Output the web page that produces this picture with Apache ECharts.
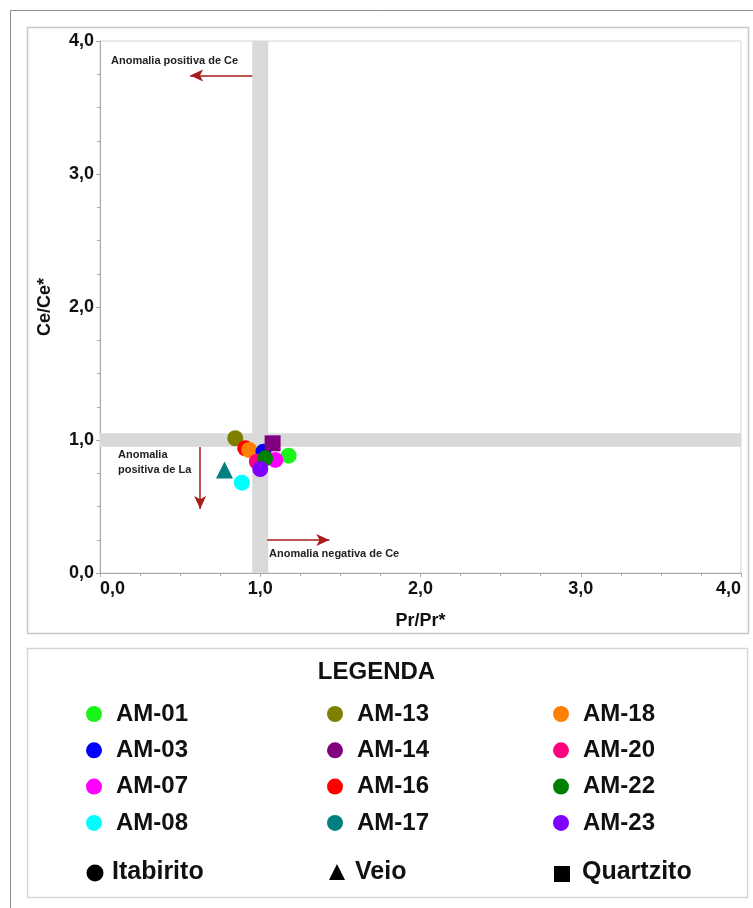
<!DOCTYPE html>
<html>
<head>
<meta charset="utf-8">
<title>Ce/Ce* vs Pr/Pr*</title>
<script src="https://cdn.jsdelivr.net/npm/echarts@6/dist/echarts.min.js"></script>
<style>
  html, body { margin: 0; padding: 0; background: #ffffff; }
  #chart { width: 753px; height: 908px; }
</style>
</head>
<body>
<div id="chart"></div>
<script>
// Samples and their anomaly ratios
const samples   = ['AM-01', 'AM-03', 'AM-07', 'AM-08', 'AM-13', 'AM-14', 'AM-16', 'AM-17', 'AM-18', 'AM-20', 'AM-22', 'AM-23'];
const prRatio   = [1.177, 1.020, 1.094, 0.885, 0.844, 1.077, 0.906, 0.777, 0.931, 0.979, 1.031, 1.000];
const ceRatio   = [0.882, 0.912, 0.850, 0.679, 1.013, 0.975, 0.938, 0.774, 0.925, 0.837, 0.862, 0.782];
const rockType  = ['Itabirito', 'Itabirito', 'Itabirito', 'Itabirito', 'Itabirito', 'Quartzito', 'Itabirito', 'Veio', 'Itabirito', 'Itabirito', 'Itabirito', 'Itabirito'];
const colors    = ['#19f519', '#0000ff', '#ff00ff', '#00ffff', '#808000', '#800080', '#ff0000', '#008080', '#ff8000', '#ff0080', '#008000', '#8000ff'];

// Order in which the points are stacked (later ones on top)
const drawOrder = ['AM-01', 'AM-13', 'AM-16', 'AM-18', 'AM-03', 'AM-14', 'AM-20', 'AM-07', 'AM-22', 'AM-23', 'AM-08', 'AM-17'];

// Legend columns
const legendCol1 = ['AM-01', 'AM-03', 'AM-07', 'AM-08'];
const legendCol2 = ['AM-13', 'AM-14', 'AM-16', 'AM-17'];
const legendCol3 = ['AM-18', 'AM-20', 'AM-22', 'AM-23'];

// Axis ranges and ticks
const axisMin = 0, axisMax = 4, axisStep = 1;

// Reference band around ratio = 1 (from, to)
const unityBand = [0.95, 1.05];

// Arrows indicating anomaly directions: [x0, y0, x1, y1]
const arrowCePos = [0.95, 3.74, 0.5625, 3.74];
const arrowLaPos = [0.625, 0.947, 0.625, 0.481];
const arrowCeNeg = [1.044, 0.248, 1.431, 0.248];

const FONT = '"Liberation Sans", Arial, Helvetica, sans-serif';
const TEXT = '#111111';
const ARROW = '#a81c1c';

const symbolFor = { 'Itabirito': 'circle', 'Veio': 'triangle', 'Quartzito': 'rect' };

const fmt = v => v.toFixed(1).replace('.', ',');

const pointSeries = drawOrder.map(name => {
  const i = samples.indexOf(name);
  return {
    name: name,
    type: 'scatter',
    symbol: symbolFor[rockType[i]],
    symbolSize: rockType[i] === 'Veio' ? 17 : 16,
    itemStyle: { color: colors[i], opacity: 1 },
    data: [[prRatio[i], ceRatio[i]]],
    z: 3
  };
});

const arrowLine = a => [{ coord: [a[0], a[1]] }, { coord: [a[2], a[3]] }];

const guideSeries = {
  name: 'guides',
  type: 'scatter',
  data: [],
  silent: true,
  z: 1,
  markArea: {
    silent: true,
    itemStyle: { color: '#d9d9d9', opacity: 1 },
    data: [
      [{ xAxis: unityBand[0], yAxis: axisMin }, { xAxis: unityBand[1], yAxis: axisMax }],
      [{ xAxis: axisMin, yAxis: unityBand[0] }, { xAxis: axisMax, yAxis: unityBand[1] }]
    ]
  },
  markLine: {
    silent: true,
    symbol: ['none', 'arrow'],
    symbolSize: [9, 13],
    label: { show: false },
    lineStyle: { color: ARROW, width: 1.5, type: 'solid' },
    emphasis: { disabled: true },
    data: [arrowLine(arrowCePos), arrowLine(arrowLaPos), arrowLine(arrowCeNeg)]
  }
};

function legendColumn(data, left) {
  return {
    data: data,
    orient: 'vertical',
    left: left,
    top: 697,
    icon: 'circle',
    itemWidth: 30,
    itemHeight: 16,
    itemGap: 12.3,
    selectedMode: false,
    textStyle: { fontFamily: FONT, fontSize: 24, fontWeight: 'bold', color: TEXT, lineHeight: 24, padding: [0, 0, 0, 2] }
  };
}

const axisCommon = {
  type: 'value',
  min: axisMin,
  max: axisMax,
  interval: axisStep,
  splitLine: { show: false },
  axisLine: { show: true, lineStyle: { color: '#aaaaaa', width: 1 } },
  axisTick: { show: true, length: 4, lineStyle: { color: '#aaaaaa' } },
  minorTick: { show: true, splitNumber: 4, length: 3, lineStyle: { color: '#aaaaaa' } },
  axisLabel: { formatter: fmt, fontFamily: FONT, fontSize: 18, fontWeight: 'bold', color: TEXT },
  nameTextStyle: { fontFamily: FONT, fontSize: 18, fontWeight: 'bold', color: TEXT },
  nameLocation: 'middle'
};

const option = {
  animation: false,
  backgroundColor: '#ffffff',
  grid: {
    left: 100, right: 12, top: 41, bottom: 335,
    show: true, borderColor: '#d4d4d4', borderWidth: 1, backgroundColor: 'transparent'
  },
  xAxis: Object.assign({}, axisCommon, {
    name: 'Pr/Pr*',
    nameGap: 39,
    axisLabel: Object.assign({}, axisCommon.axisLabel, { margin: 7, alignMinLabel: 'left', alignMaxLabel: 'right' })
  }),
  yAxis: Object.assign({}, axisCommon, {
    name: 'Ce/Ce*',
    nameGap: 46,
    axisLabel: Object.assign({}, axisCommon.axisLabel, { margin: 6 })
  }),
  legend: [legendColumn(legendCol1, 81), legendColumn(legendCol2, 322), legendColumn(legendCol3, 548)],
  series: [guideSeries].concat(pointSeries),
  graphic: [
    // outer frame
    { type: 'rect', silent: true, z: -10, shape: { x: 10.5, y: 10.5, width: 780, height: 940 },
      style: { fill: 'none', stroke: '#8c8c8c', lineWidth: 1 } },
    // plot panel frame
    { type: 'rect', silent: true, z: -10, shape: { x: 27.5, y: 27.5, width: 721, height: 606 },
      style: { fill: 'none', stroke: '#c8c8c8', lineWidth: 1.5 } },
    // legend panel frame
    { type: 'rect', silent: true, z: -10, shape: { x: 27.5, y: 648.5, width: 720, height: 249 },
      style: { fill: 'none', stroke: '#d6d6d6', lineWidth: 1.5 } },
    // annotations
    { type: 'text', silent: true, z: 5, left: 111, top: 55,
      style: { text: 'Anomalia positiva de Ce', font: 'bold 11px ' + FONT, fill: '#222222' } },
    { type: 'text', silent: true, z: 5, left: 118, top: 447,
      style: { text: 'Anomalia\npositiva de La', font: 'bold 11px ' + FONT, fill: '#222222', lineHeight: 15 } },
    { type: 'text', silent: true, z: 5, left: 269, top: 548,
      style: { text: 'Anomalia negativa de Ce', font: 'bold 11px ' + FONT, fill: '#222222' } },
    // legend title
    { type: 'text', silent: true, left: 'center', top: 660, z: 5,
      style: { text: 'LEGENDA', font: 'bold 24px ' + FONT, fill: TEXT, x: 388, textAlign: 'center' } },
    // rock type key
    { type: 'circle', silent: true, shape: { cx: 95, cy: 873, r: 8.5 }, style: { fill: '#000000' } },
    { type: 'text', silent: true, left: 112, top: 860,
      style: { text: 'Itabirito', font: 'bold 25px ' + FONT, fill: TEXT } },
    { type: 'polygon', silent: true, shape: { points: [[337, 864], [345, 880], [329, 880]] }, style: { fill: '#000000' } },
    { type: 'text', silent: true, left: 355, top: 860,
      style: { text: 'Veio', font: 'bold 25px ' + FONT, fill: TEXT } },
    { type: 'rect', silent: true, shape: { x: 554, y: 866, width: 16, height: 16 }, style: { fill: '#000000' } },
    { type: 'text', silent: true, left: 582, top: 860,
      style: { text: 'Quartzito', font: 'bold 25px ' + FONT, fill: TEXT } }
  ]
};

const chart = echarts.init(document.getElementById('chart'), null, { renderer: 'canvas' });
chart.setOption(option);
</script>
</body>
</html>
